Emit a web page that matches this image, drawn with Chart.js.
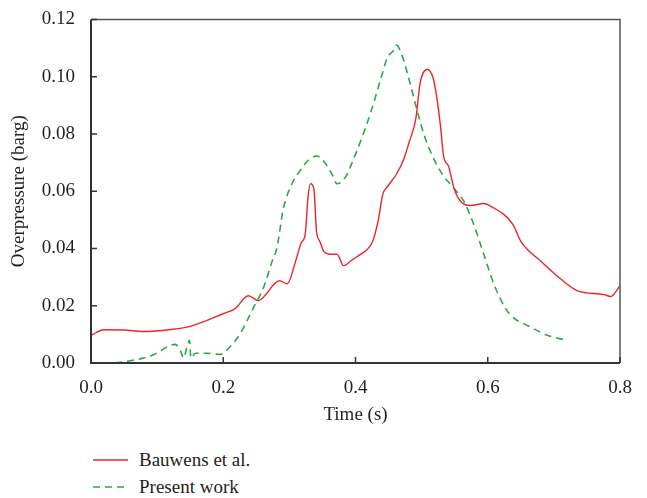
<!DOCTYPE html>
<html>
<head>
<meta charset="utf-8">
<script src="https://cdn.jsdelivr.net/npm/chart.js@4/dist/chart.umd.min.js"></script>
<style>
  body { margin:0; background:#fff; font-family:"Liberation Serif", serif; }
  #wrap { position:relative; width:647px; height:430px; }
  .legend { position:absolute; left:93px; color:#231f20; font-size:19px; }
  .legend div { height:27px; display:flex; align-items:center; }
  .legend svg { margin-right:11px; }
</style>
</head>
<body>
<div id="wrap"><canvas id="c"></canvas></div>
<div class="legend" style="top:446px">
  <div><svg width="35" height="4"><line x1="0" y1="2" x2="35" y2="2" stroke="#e8262a" stroke-width="1.5"/></svg>Bauwens et al.</div>
  <div><svg width="35" height="4"><line x1="0" y1="2" x2="35" y2="2" stroke="#2ca84a" stroke-width="1.5" stroke-dasharray="7,5"/></svg>Present work</div>
</div>
<script>
// Bauwens et al. (red, solid)
const redX = [0.0, 0.02, 0.05, 0.08, 0.12, 0.15, 0.2, 0.218, 0.238, 0.253, 0.285, 0.297, 0.31, 0.318, 0.324, 0.328, 0.332, 0.337, 0.341, 0.346, 0.352, 0.362, 0.372, 0.382, 0.395, 0.408, 0.418, 0.426, 0.435, 0.441, 0.448, 0.462, 0.473, 0.481, 0.491, 0.498, 0.509, 0.518, 0.524, 0.529, 0.533, 0.541, 0.549, 0.559, 0.574, 0.594, 0.605, 0.638, 0.65, 0.68, 0.71, 0.736, 0.776, 0.786, 0.8];
const redY = [0.0097, 0.0116, 0.0115, 0.0110, 0.0117, 0.0128, 0.0172, 0.019, 0.0235, 0.0218, 0.0287, 0.0277, 0.036, 0.042, 0.045, 0.0575, 0.0626, 0.061, 0.046, 0.0425, 0.039, 0.038, 0.038, 0.034, 0.036, 0.038, 0.0397, 0.0425, 0.0505, 0.0587, 0.0615, 0.066, 0.0712, 0.077, 0.085, 0.098, 0.1025, 0.099, 0.091, 0.0817, 0.0725, 0.0685, 0.061, 0.0564, 0.055, 0.0557, 0.0547, 0.0484, 0.0425, 0.0356, 0.0294, 0.0252, 0.0239, 0.0232, 0.027];

// Present work (green, dashed)
const greenX = [0.0, 0.03, 0.059, 0.079, 0.094, 0.115, 0.127, 0.135, 0.14, 0.145, 0.149, 0.151, 0.158, 0.175, 0.195, 0.21, 0.226, 0.246, 0.261, 0.274, 0.281, 0.291, 0.304, 0.317, 0.329, 0.342, 0.355, 0.365, 0.372, 0.385, 0.397, 0.407, 0.423, 0.438, 0.448, 0.458, 0.462, 0.471, 0.481, 0.494, 0.504, 0.516, 0.532, 0.549, 0.564, 0.577, 0.594, 0.609, 0.627, 0.64, 0.66, 0.69, 0.718];
const greenY = [0.0, 0.0, 0.0008, 0.0017, 0.0028, 0.0056, 0.0065, 0.0045, 0.0017, 0.0055, 0.0079, 0.0017, 0.0034, 0.0034, 0.003, 0.0056, 0.0104, 0.0195, 0.0264, 0.0356, 0.040, 0.054, 0.0626, 0.0674, 0.0709, 0.0723, 0.0695, 0.0657, 0.0626, 0.065, 0.0712, 0.077, 0.0875, 0.099, 0.1065, 0.1093, 0.111, 0.107, 0.099, 0.0875, 0.0795, 0.0725, 0.0657, 0.061, 0.0564, 0.0495, 0.038, 0.0277, 0.019, 0.0156, 0.0131, 0.0097, 0.008];

const xTicks = [0.0, 0.2, 0.4, 0.6, 0.8];
const yTicks = [0.00, 0.02, 0.04, 0.06, 0.08, 0.10, 0.12];

const pts = (xs, ys) => xs.map((x, i) => ({ x, y: ys[i] }));
const FONT = { family: '"Liberation Serif", serif', size: 19 };
const TXT = '#231f20';

// frame + inward tick marks
const framePlugin = {
  id: 'frame',
  afterDraw(chart) {
    const { ctx, chartArea: a, scales } = chart;
    ctx.save();
    ctx.strokeStyle = '#555'; ctx.lineWidth = 1.5;
    ctx.beginPath();
    ctx.moveTo(a.left, a.top); ctx.lineTo(a.right, a.top); ctx.lineTo(a.right, a.bottom);
    ctx.stroke();
    ctx.strokeStyle = '#333'; ctx.lineWidth = 2;
    ctx.beginPath();
    ctx.moveTo(a.left, a.top); ctx.lineTo(a.left, a.bottom); ctx.lineTo(a.right, a.bottom);
    ctx.stroke();
    ctx.lineWidth = 1.5;
    ctx.beginPath();
    xTicks.forEach(v => { const p = scales.x.getPixelForValue(v); ctx.moveTo(p, a.bottom); ctx.lineTo(p, a.bottom - 6); });
    yTicks.forEach(v => { const p = scales.y.getPixelForValue(v); ctx.moveTo(a.left, p); ctx.lineTo(a.left + 6, p); });
    ctx.stroke();
    ctx.restore();
  }
};

new Chart(document.getElementById('c'), {
  type: 'line',
  data: { datasets: [
    { label: 'Bauwens et al.', data: pts(redX, redY), borderColor: '#e8262a', borderWidth: 1.4,
      pointRadius: 0, fill: false, cubicInterpolationMode: 'monotone' },
    { label: 'Present work', data: pts(greenX, greenY), borderColor: '#2ca84a', borderWidth: 1.6,
      borderDash: [7, 5], pointRadius: 0, fill: false, cubicInterpolationMode: 'monotone' },
  ]},
  options: {
    responsive: true, maintainAspectRatio: false, animation: false,
    layout: { padding: { top: 16, right: 27, left: 0, bottom: 0 } },
    plugins: { legend: { display: false }, tooltip: { enabled: false } },
    scales: {
      x: { type: 'linear', min: 0, max: 0.8,
        afterBuildTicks: s => { s.ticks = xTicks.map(v => ({ value: v })); },
        afterFit: s => { s.height = 67; },
        grid: { display: false }, border: { display: false },
        ticks: { color: TXT, font: FONT, padding: 6, callback: v => v.toFixed(1) },
        title: { display: true, text: 'Time (s)', color: TXT, font: FONT, padding: { top: 4 } } },
      y: { min: 0, max: 0.12,
        afterBuildTicks: s => { s.ticks = yTicks.map(v => ({ value: v })); },
        afterFit: s => { s.width = 91; },
        grid: { display: false }, border: { display: false },
        ticks: { color: TXT, font: FONT, padding: 8, callback: v => v.toFixed(2) },
        title: { display: true, text: 'Overpressure (barg)', color: TXT, font: FONT, padding: { top: 8, bottom: 0 } } },
    },
  },
  plugins: [framePlugin],
});
</script>
</body>
</html>
